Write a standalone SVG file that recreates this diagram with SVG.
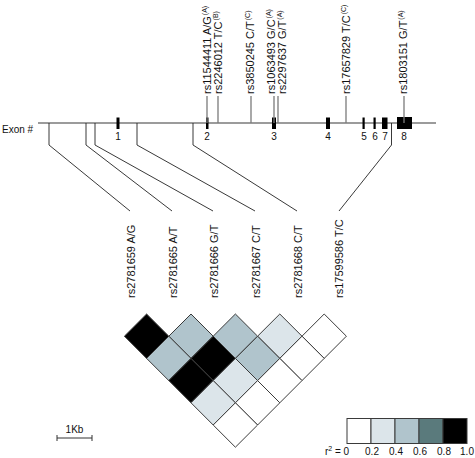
<svg xmlns="http://www.w3.org/2000/svg" width="475" height="458" viewBox="0 0 475 458">
<style>
text{font-family:"Liberation Sans","DejaVu Sans",sans-serif;fill:#111}
.lbl{font-size:11px}
.sup{font-size:7px}
.num{font-size:10px;text-anchor:middle}
.gl{stroke:#7a7a7a;stroke-width:1.3;fill:none}
.con{stroke:#222;stroke-width:0.9;fill:none}
.ex{fill:#000}
.cell{stroke:#3a3a3a;stroke-width:1}
.c0{fill:#ffffff}.c1{fill:#dce5ea}.c2{fill:#b0c4cc}.c3{fill:#5a7a7c}.c4{fill:#000000}
.leg{font-size:10px;text-anchor:middle}
</style>
<defs>
<path id="d" d="M0,-22.2 L22.2,0 L0,22.2 L-22.2,0Z"/>
</defs>
<rect width="475" height="458" fill="#fff"/>

<g id="gene">
<text x="2" y="133" style="font-size:10px">Exon #</text>
<line class="gl" x1="38" y1="123" x2="436" y2="123"/>
<rect class="ex" x="116.5" y="117.5" width="3" height="11.5"/>
<rect class="ex" x="206" y="117.5" width="2.5" height="11.5"/>
<rect class="ex" x="272" y="117.5" width="4" height="11.5"/>
<rect class="ex" x="326" y="117.5" width="4" height="11.5"/>
<rect class="ex" x="362.5" y="117.5" width="2.2" height="11.5"/>
<rect class="ex" x="373.5" y="117.5" width="2.2" height="11.5"/>
<rect class="ex" x="382" y="117.5" width="5.5" height="11.5"/>
<rect class="ex" x="397" y="117" width="15" height="12"/>
<text class="num" x="118" y="140">1</text>
<text class="num" x="207" y="140">2</text>
<text class="num" x="274" y="140">3</text>
<text class="num" x="328" y="140">4</text>
<text class="num" x="364" y="140">5</text>
<text class="num" x="375" y="140">6</text>
<text class="num" x="385" y="140">7</text>
<text class="num" x="404" y="140">8</text>
</g>

<g id="connectors">
<line class="gl" x1="207" y1="96" x2="207" y2="123"/>
<line class="gl" x1="218" y1="96" x2="218" y2="123"/>
<line class="gl" x1="251" y1="96" x2="251" y2="123"/>
<line class="gl" x1="274" y1="96" x2="274" y2="123"/>
<line class="gl" x1="278" y1="96" x2="278" y2="123"/>
<line class="gl" x1="346" y1="96" x2="346" y2="123"/>
<line class="gl" x1="404" y1="96" x2="404" y2="123"/>
<polyline class="con" points="49,123 49,145 130,211"/>
<polyline class="con" points="86,123 86,145 172,211"/>
<polyline class="con" points="95,123 95,145 213,211"/>
<polyline class="con" points="137,123 137,145 255,211"/>
<polyline class="con" points="193,123 193,145 297,211"/>
<polyline class="con" points="391.5,123 391.5,145 339,211"/>
</g>

<g id="snps-top" class="lbl">
<text transform="translate(211,94) rotate(-90)">rs11544411 A/G<tspan class="sup" dx="1" dy="-4">(A)</tspan></text>
<text transform="translate(222,94) rotate(-90)">rs2246012 T/C<tspan class="sup" dx="1" dy="-4">(B)</tspan></text>
<text transform="translate(254,94) rotate(-90)">rs3850245 C/T<tspan class="sup" dx="1" dy="-4">(C)</tspan></text>
<text transform="translate(275,94) rotate(-90)">rs1063493 G/C<tspan class="sup" dx="1" dy="-4">(A)</tspan></text>
<text transform="translate(286,94) rotate(-90)">rs2297637 G/T<tspan class="sup" dx="1" dy="-4">(A)</tspan></text>
<text transform="translate(350,94) rotate(-90)">rs17657829 T/C<tspan class="sup" dx="1" dy="-4">(C)</tspan></text>
<text transform="translate(407,94) rotate(-90)">rs1803151 G/T<tspan class="sup" dx="1" dy="-4">(A)</tspan></text>
</g>

<g id="snps-bottom" class="lbl">
<text transform="translate(135,298) rotate(-90)">rs2781659 A/G</text>
<text transform="translate(177,298) rotate(-90)">rs2781665 A/T</text>
<text transform="translate(218,298) rotate(-90)">rs2781666 G/T</text>
<text transform="translate(260,298) rotate(-90)">rs2781667 C/T</text>
<text transform="translate(302,298) rotate(-90)">rs2781668 C/T</text>
<text transform="translate(343,298) rotate(-90)">rs17599586 T/C</text>
</g>

<g id="ld-plot">
<use href="#d" class="cell c4" x="146.6" y="336.2"/>
<use href="#d" class="cell c2" x="191.0" y="336.2"/>
<use href="#d" class="cell c2" x="235.4" y="336.2"/>
<use href="#d" class="cell c1" x="279.8" y="336.2"/>
<use href="#d" class="cell c0" x="324.2" y="336.2"/>
<use href="#d" class="cell c2" x="168.8" y="358.4"/>
<use href="#d" class="cell c4" x="213.2" y="358.4"/>
<use href="#d" class="cell c2" x="257.6" y="358.4"/>
<use href="#d" class="cell c0" x="302.0" y="358.4"/>
<use href="#d" class="cell c4" x="191.0" y="380.6"/>
<use href="#d" class="cell c1" x="235.4" y="380.6"/>
<use href="#d" class="cell c0" x="279.8" y="380.6"/>
<use href="#d" class="cell c1" x="213.2" y="402.8"/>
<use href="#d" class="cell c0" x="257.6" y="402.8"/>
<use href="#d" class="cell c0" x="235.4" y="425.0"/>
</g>

<g id="legend">
<rect class="cell c0" x="347" y="418.5" width="24" height="25"/>
<rect class="cell c1" x="371" y="418.5" width="24" height="25"/>
<rect class="cell c2" x="395" y="418.5" width="24" height="25"/>
<rect class="cell c3" x="419" y="418.5" width="24" height="25"/>
<rect class="cell c4" x="443" y="418.5" width="24" height="25"/>
<text class="leg" x="337" y="455">r<tspan font-size="7" dy="-4">2</tspan><tspan dy="4"> = 0</tspan></text>
<text class="leg" x="372" y="455">0.2</text>
<text class="leg" x="396" y="455">0.4</text>
<text class="leg" x="420" y="455">0.6</text>
<text class="leg" x="444" y="455">0.8</text>
<text class="leg" x="467" y="455">1.0</text>
</g>

<g id="scalebar">
<line x1="57" y1="438" x2="92" y2="438" stroke="#333" stroke-width="1"/>
<line x1="57" y1="435" x2="57" y2="441" stroke="#333" stroke-width="1"/>
<line x1="92" y1="435" x2="92" y2="441" stroke="#333" stroke-width="1"/>
<text x="74.5" y="433" style="font-size:10px;text-anchor:middle">1Kb</text>
</g>
</svg>
